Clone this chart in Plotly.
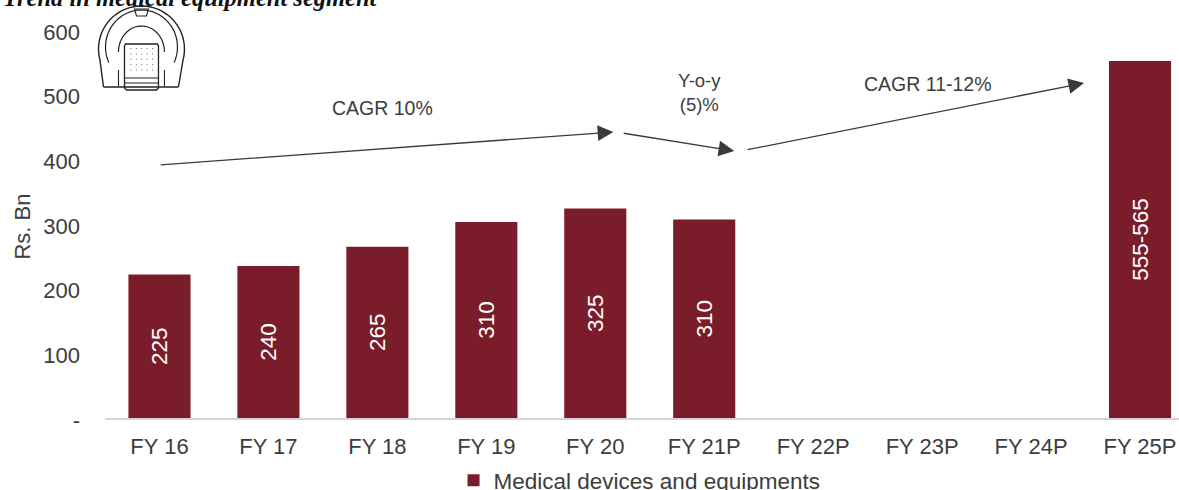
import math
import plotly.graph_objects as go

categories = ["FY 16", "FY 17", "FY 18", "FY 19", "FY 20", "FY 21P", "FY 22P", "FY 23P", "FY 24P", "FY 25P"]
bar_values = [222, 235, 265, 303, 324, 307, None, None, None, 552]
bar_labels = ["225", "240", "265", "310", "325", "310", "", "", "", "555-565"]
y_ticks = [0, 100, 200, 300, 400, 500, 600]
y_tick_labels = ["-", "100", "200", "300", "400", "500", "600"]
series_name = "Medical devices and equipments"
title_text = "Trend in medical equipment segment"

W, H = 1179, 530
L, R, T, B = 104.5, 1179, 30, 418
RED = "#7B1C2B"
TXT = "#3c3c3c"

def fx(p): return (p - L) / (R - L)
def fy(p): return (B - p) / (B - T)

fig = go.Figure(go.Bar(
    x=list(range(len(categories))), y=bar_values, name=series_name,
    marker=dict(color=RED, line=dict(width=0)), width=0.57,
    text=bar_labels, textposition="inside", textangle=-90,
    insidetextanchor="middle", constraintext="none",
    insidetextfont=dict(color="white", size=22.5, family="Liberation Sans"),
    showlegend=True, hoverinfo="skip"))

shapes = []
def line(pts, w=1.5, color="#222", close=False):
    d = "M" + " L".join(f"{fx(x):.5f},{fy(y):.5f}" for x, y in pts) + (" Z" if close else "")
    shapes.append(dict(type="path", xref="paper", yref="paper", path=d,
                       line=dict(color=color, width=w), layer="above"))
def arc(cx, cy, rx, ry, a0, a1, n=40):
    return [(cx + rx*math.cos(math.radians(a0+(a1-a0)*i/n)),
             cy - ry*math.sin(math.radians(a0+(a1-a0)*i/n))) for i in range(n+1)]

# scanner icon
line([(103, 87)] + arc(141, 49, 43, 43, 195, -15) + [(178, 87)], 1.4)
line([(103, 87), (178, 87)], 1.4)
line(arc(141, 47, 36, 37, 205, -25), 1.2)
line(arc(141, 52, 23, 26, 180, 0), 1.2)
line([(118, 70), (118, 86)], 1.1)
line([(164, 70), (164, 86)], 1.1)
line([(125, 44), (157, 44), (158, 46), (158, 88), (156, 90), (126, 90), (124, 88), (124, 46)], 1.3, close=True)
line([(124, 78), (158, 78)], 1.1)
line([(124, 83), (158, 83)], 1.1)
line([(134, 9), (148, 9), (146, 16), (136, 16)], 1.1, close=True)
for r in range(5):
    for c in range(5):
        x0, y0 = 130 + c*5.4, 48 + r*5.4
        shapes.append(dict(type="rect", xref="paper", yref="paper",
                           x0=fx(x0), x1=fx(x0+1), y0=fy(y0), y1=fy(y0+1),
                           fillcolor="#666", line=dict(width=0)))

annos = []
def arrow(x0, y0, x1, y1):
    annos.append(dict(xref="paper", yref="paper", axref="pixel", ayref="pixel",
                      x=fx(x1), y=fy(y1), ax=x0-x1, ay=y0-y1, text="", showarrow=True,
                      arrowhead=2, arrowsize=2.4, arrowwidth=1.3, arrowcolor="#3a3a3a"))
arrow(159, 165, 613, 132)
arrow(622, 133, 734, 151)
arrow(746, 150, 1084, 83)
def label(x, y, t, size=19.5):
    annos.append(dict(xref="paper", yref="paper", x=fx(x), y=fy(y), text=t, showarrow=False,
                      xanchor="center", yanchor="middle",
                      font=dict(size=size, color=TXT, family="Liberation Sans"), align="center"))
label(382, 108, "CAGR 10%")
label(699, 92, "Y-o-y<br>(5)%", 18.5)
label(928, 84, "CAGR 11-12%")
annos.append(dict(xref="paper", yref="paper", x=fx(0), y=fy(-3), text="<b><i>"+title_text+"</i></b>",
                  showarrow=False, xanchor="left", yanchor="middle", font=dict(size=24.5, color="#111", family="Liberation Serif")))
annos.append(dict(xref="paper", yref="paper", x=fx(21), y=fy(227), text="Rs. Bn", textangle=-90, showarrow=False,
                  xanchor="center", yanchor="middle",
                  font=dict(size=22, color=TXT, family="Liberation Sans")))

fig.update_layout(
    width=W, height=H, margin=dict(l=L, r=W-R, t=T, b=H-B, pad=0),
    plot_bgcolor="white", paper_bgcolor="white", shapes=shapes, annotations=annos,
    font=dict(family="Liberation Sans", color=TXT),
    legend=dict(orientation="h", x=0.4977, xanchor="center", y=-0.1062, yanchor="top",
                font=dict(size=22.5, color=TXT), itemsizing="constant"),
    xaxis=dict(range=[-0.5, -0.5 + (R-L)/109], tickvals=list(range(len(categories))), ticktext=categories,
               showgrid=False, showline=True, linecolor="#d4d4d4", linewidth=1.5, ticks="",
               tickfont=dict(size=22, color=TXT), ticklabelstandoff=8),
    yaxis=dict(range=[0, 600], tickvals=y_ticks, ticktext=y_tick_labels, showgrid=False, zeroline=False,
               showline=False, ticks="", tickfont=dict(size=22, color=TXT), ticklabelstandoff=24),
)
fig.write_html("out.html", config=dict(displayModeBar=False),
               post_script="document.body.style.margin='0';document.body.style.overflow='hidden';"
                           "document.querySelectorAll('.ytick').forEach(function(t){t.setAttribute('transform','translate(0,2)');});")
